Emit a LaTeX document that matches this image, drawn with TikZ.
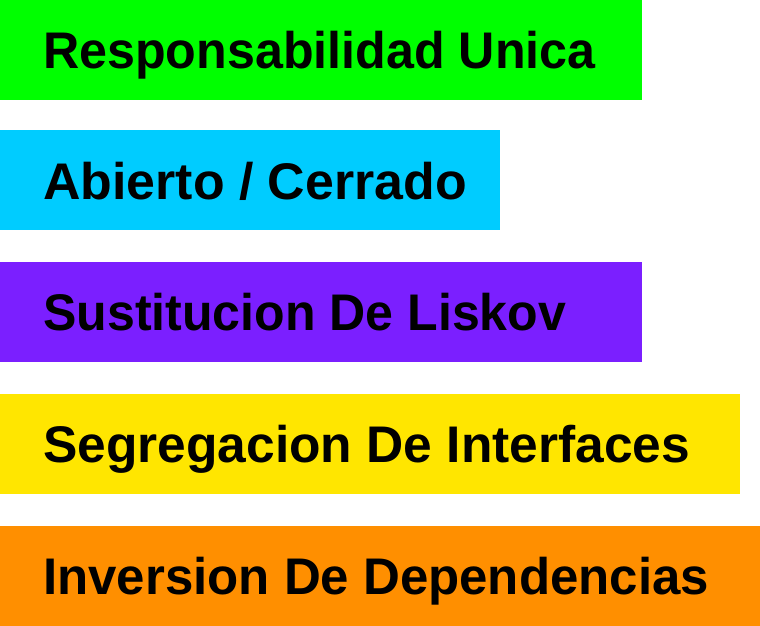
\documentclass[tikz,border=0pt]{standalone}
\usepackage{fontspec}
\usepackage{graphicx}
\setmainfont{Liberation Sans}
\definecolor{cGreen}{RGB}{0,255,0}
\definecolor{cCyan}{RGB}{0,204,255}
\definecolor{cPurple}{RGB}{123,31,255}
\definecolor{cYellow}{RGB}{255,230,0}
\definecolor{cOrange}{RGB}{255,143,0}
\tikzset{
  lbl/.style={anchor=base west, inner sep=0pt, font=\fontsize{51.5pt}{60pt}\selectfont\bfseries, text=black}
}
\begin{document}
\begin{tikzpicture}[x=1pt,y=1pt]
\useasboundingbox (0,0) rectangle (760,626);
\fill[cGreen]  (0,626) rectangle (642,526);
\fill[cCyan]   (0,495.5) rectangle (500,396);
\fill[cPurple] (0,364) rectangle (642,264);
\fill[cYellow] (0,232) rectangle (740,132);
\fill[cOrange] (0,100) rectangle (760,0);
\node[lbl] (t1) at (43,557) {\scalebox{0.975}[1]{Responsabilidad Unica}};
\node[lbl] (t2) at (43,426.5) {\scalebox{1.007}[1]{Abierto / Cerrado}};
\node[lbl] (t3) at (43,295) {\scalebox{0.972}[1]{Sustitucion De Liskov}};
\node[lbl] (t4) at (43,163) {Segregacion De Interfaces};
\node[lbl] (t5) at (43,31) {\scalebox{0.99}[1]{Inversion De Dependencias}};
\end{tikzpicture}
\end{document}
